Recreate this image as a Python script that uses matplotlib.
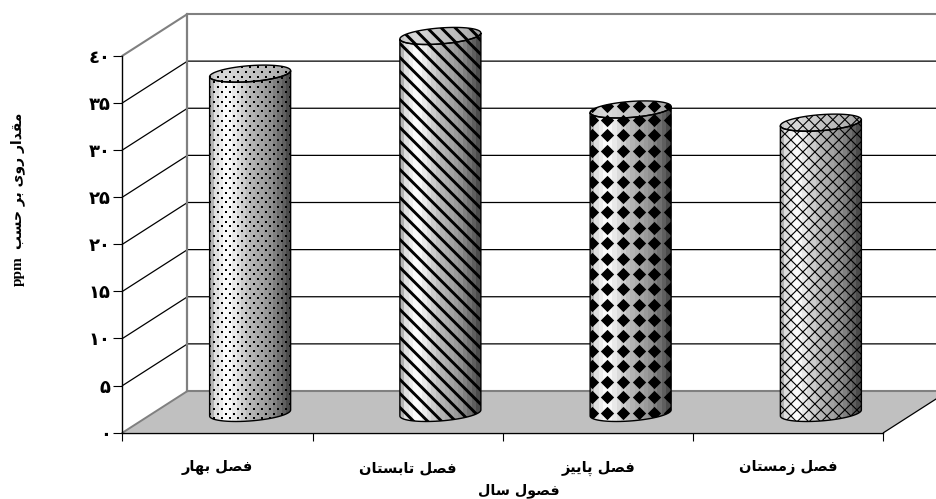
# -*- coding: utf-8 -*-
import numpy as np
import matplotlib
matplotlib.use("Agg")
import matplotlib.pyplot as plt
from matplotlib.patches import Polygon

# data
seasons = ["فصل بهار", "فصل تابستان", "فصل پاییز", "فصل زمستان"]
zinc_ppm = [36, 40, 32.2, 30.8]
patterns = ["dots", "stripes", "diamonds", "lattice"]
y_ticks = [0, 5, 10, 15, 20, 25, 30, 35, 40]
y_tick_labels = ["٠", "۵", "١٠", "١۵", "٢٠", "٢۵", "٣٠", "٣۵", "٤٠"]
x_title = "فصول سال"
y_title = "مقدار روی بر حسب"
y_unit = "ppm"

# horizontal shading of a cylinder
shade_pos = [0.0, 0.05, 0.2, 0.5, 0.75, 0.92, 1.0]
shade_val = [0.70, 0.86, 1.0, 0.72, 0.58, 0.40, 0.30]

W, H = 937, 499
LEFT, RIGHT = 122.5, 883.5
BOTTOM, TOP = 432.7, 55.7
DEPTH_X, DEPTH_Y = 65.0, 41.7   # oblique offset of back wall, pixels

# forms: isolated, final, initial, medial
FORMS = {
    "ا": (0xFE8D, 0xFE8E), "ب": (0xFE8F, 0xFE90, 0xFE91, 0xFE92),
    "پ": (0xFB56, 0xFB57, 0xFB58, 0xFB59), "ت": (0xFE95, 0xFE96, 0xFE97, 0xFE98),
    "ح": (0xFEA1, 0xFEA2, 0xFEA3, 0xFEA4), "د": (0xFEA9, 0xFEAA),
    "ر": (0xFEAD, 0xFEAE), "ز": (0xFEAF, 0xFEB0),
    "س": (0xFEB1, 0xFEB2, 0xFEB3, 0xFEB4), "ص": (0xFEB9, 0xFEBA, 0xFEBB, 0xFEBC),
    "ف": (0xFED1, 0xFED2, 0xFED3, 0xFED4), "ق": (0xFED5, 0xFED6, 0xFED7, 0xFED8),
    "ل": (0xFEDD, 0xFEDE, 0xFEDF, 0xFEE0), "م": (0xFEE1, 0xFEE2, 0xFEE3, 0xFEE4),
    "ن": (0xFEE5, 0xFEE6, 0xFEE7, 0xFEE8), "ه": (0xFEE9, 0xFEEA, 0xFEEB, 0xFEEC),
    "و": (0xFEED, 0xFEEE), "ی": (0xFBFC, 0xFBFD, 0xFBFE, 0xFBFF),
}


def shape_word(word):
    out = []
    for i, ch in enumerate(word):
        forms = FORMS[ch]
        prev_joins = i > 0 and len(FORMS[word[i - 1]]) == 4
        next_joins = i < len(word) - 1 and len(forms) == 4
        if prev_joins and next_joins:
            idx = 3
        elif next_joins:
            idx = 2
        elif prev_joins:
            idx = 1
        else:
            idx = 0
        out.append(chr(forms[idx]))
    return "".join(reversed(out))


def shape(text):
    # matplotlib has no bidi or joining, so lay the text out by hand
    return " ".join(shape_word(w) for w in reversed(text.split(" ")))


plt.rcParams["font.family"] = ["DejaVu Sans"]
plt.rcParams["font.weight"] = "bold"

fig = plt.figure(figsize=(W / 100, H / 100), dpi=100)
ax = fig.add_axes([LEFT / W, 1 - BOTTOM / H, (RIGHT - LEFT) / W, (BOTTOM - TOP) / H])
ax.patch.set_visible(False)

n = len(seasons)
px_x = (RIGHT - LEFT) / n          # pixels per category
px_y = (BOTTOM - TOP) / y_ticks[-1]  # pixels per ppm
dx = DEPTH_X / px_x
dy = DEPTH_Y / px_y
GRAY = "#808080"

# floor
ax.add_patch(Polygon([(0, 0), (n, 0), (n + dx, dy), (dx, dy)], closed=True,
                     facecolor="#C0C0C0", edgecolor="none", clip_on=False, zorder=1))
ax.plot([n, n + dx], [0, dy], color="black", lw=0.9, clip_on=False, zorder=2)
ax.plot([dx, n + dx], [dy, dy], color=GRAY, lw=1.5, clip_on=False, zorder=2)

# walls and gridlines
for v in y_ticks[1:]:
    c = GRAY if v == y_ticks[-1] else "black"
    lw = 1.5 if v == y_ticks[-1] else 0.9
    ax.plot([0, dx, n + dx], [v, v + dy, v + dy], color=c, lw=lw, clip_on=False, zorder=2)
ax.plot([dx, dx], [dy, y_ticks[-1] + dy], color=GRAY, lw=1.6, clip_on=False, zorder=2)
ax.plot([0, dx], [0, dy], color=GRAY, lw=1.4, clip_on=False, zorder=2)


def clip_to(artist, patch):
    artist.set_clip_box(fig.bbox)
    artist.set_clip_path(patch)


def add_pattern(kind, cx, ylo, yhi, clip):
    # texture is laid out in pixels relative to the bar, then clipped to the shape
    x0 = cx * px_x
    xs_px = lambda a: np.asarray(a) / px_x
    ys_px = lambda a: np.asarray(a) / px_y
    y_lo = ylo * px_y - 15
    y_hi = yhi * px_y + 15
    artists = []
    if kind == "dots":
        for r, yy in enumerate(np.arange(y_lo, y_hi, 4.8)):
            xx = np.arange(x0 - 44 + (r % 2) * 4, x0 + 44, 8)
            artists.append(ax.scatter(xs_px(xx), np.full(xx.shape, ys_px(yy)), s=2.4,
                                      marker="s", color="black", linewidths=0, zorder=5))
    elif kind == "diamonds":
        yy, xx = np.meshgrid(np.arange(y_lo, y_hi, 15.4), np.arange(x0 - 39, x0 + 44, 15.7))
        for marker, size in [("D", 46), ("o", 36)]:
            artists.append(ax.scatter(xs_px(xx.ravel()), ys_px(yy.ravel()), s=size,
                                      marker=marker, color="black", linewidths=0, zorder=5))
    elif kind == "stripes":
        for off in np.arange(y_lo - 90, y_hi + 90, 14):
            artists += ax.plot(xs_px([x0 - 44, x0 + 44]), ys_px([off + 44, off - 44]),
                               color="black", lw=2.1, zorder=5)
    else:
        for off in np.arange(y_lo - 90, y_hi + 90, 12):
            artists += ax.plot(xs_px([x0 - 44, x0 + 44]), ys_px([off + 44, off - 44]),
                               color="black", lw=0.8, zorder=5)
            artists += ax.plot(xs_px([x0 - 44, x0 + 44]), ys_px([off - 44, off + 44]),
                               color="black", lw=0.8, zorder=5)
    for a in artists:
        clip_to(a, clip)


# cylinders
half_w = 40.5 / px_x
minor_h = 8.0 / px_y
shear = 3.0 / px_y
t = np.linspace(0, 2 * np.pi, 121)
shade_x = np.linspace(0, 1, 18)
body_shade = np.interp(shade_x, shade_pos, shade_val)[None, :]
top_shade = (0.55 + 0.3 * np.interp(shade_x, shade_pos, shade_val))[None, :]

for i, (value, kind) in enumerate(zip(zinc_ppm, patterns)):
    cx = i + 0.5 + dx / 2
    base = dy / 2 - 1.1 / px_y
    top = base + value
    ex = half_w * np.cos(t)
    ey = minor_h * np.sin(t) + shear * np.cos(t)

    front = t >= np.pi
    body = np.column_stack([
        np.r_[cx + ex[front], (cx + ex[front])[::-1]],
        np.r_[base + ey[front], (top + ey[front])[::-1]],
    ])
    body_patch = Polygon(body, closed=True, facecolor="none", edgecolor="black", lw=1.0,
                         clip_on=False, zorder=6)
    ax.add_patch(body_patch)
    im = ax.imshow(body_shade, cmap="gray", vmin=0, vmax=1, aspect="auto", interpolation="nearest",
                   extent=[cx - half_w, cx + half_w, base - minor_h * 2, top + minor_h * 2], zorder=4)
    clip_to(im, body_patch)
    add_pattern(kind, cx, base, top, body_patch)

    cap_patch = Polygon(np.column_stack([cx + ex, top + ey]), closed=True, facecolor="none",
                        edgecolor="black", lw=1.0, clip_on=False, zorder=6)
    ax.add_patch(cap_patch)
    im = ax.imshow(top_shade, cmap="gray", vmin=0, vmax=1, aspect="auto", interpolation="nearest",
                   extent=[cx - half_w, cx + half_w, top - minor_h * 2, top + minor_h * 2], zorder=4.5)
    clip_to(im, cap_patch)
    add_pattern(kind, cx, top - minor_h * 1.5, top + minor_h * 1.5, cap_patch)

ax.set_xlim(0, n)
ax.set_ylim(y_ticks[0], y_ticks[-1])

# axes and labels
for side in ["top", "right"]:
    ax.spines[side].set_visible(False)
ax.spines["left"].set_linewidth(1.0)
ax.spines["bottom"].set_linewidth(1.0)
ax.spines["left"].set_zorder(3)
ax.spines["bottom"].set_zorder(3)

ax.set_yticks(y_ticks)
ax.set_yticklabels(y_tick_labels, fontsize=13, fontweight="bold")
ax.tick_params(axis="y", length=6.5, width=0.8, pad=2)
ax.set_xticks(np.arange(n + 1))
ax.set_xticklabels([])
ax.tick_params(axis="x", which="major", length=6, width=0.8)
ax.set_xticks(np.arange(n) + 0.5, minor=True)
ax.set_xticklabels([shape(s) for s in seasons], minor=True, fontsize=10.5, fontweight="bold")
ax.tick_params(axis="x", which="minor", length=0, pad=20)

fig.text(519 / W, 1 - 491 / H, shape(x_title), ha="center", va="center", fontsize=10.3, fontweight="bold")
fig.text(18 / W, 1 - 181 / H, shape(y_title), ha="center", va="center", rotation=90,
         fontsize=10, fontweight="bold")
fig.text(18 / W, 1 - 271 / H, y_unit, ha="center", va="center", rotation=90,
         fontsize=11, fontweight="bold", family="Liberation Serif")

fig.savefig("out.png", dpi=100, facecolor="white")
